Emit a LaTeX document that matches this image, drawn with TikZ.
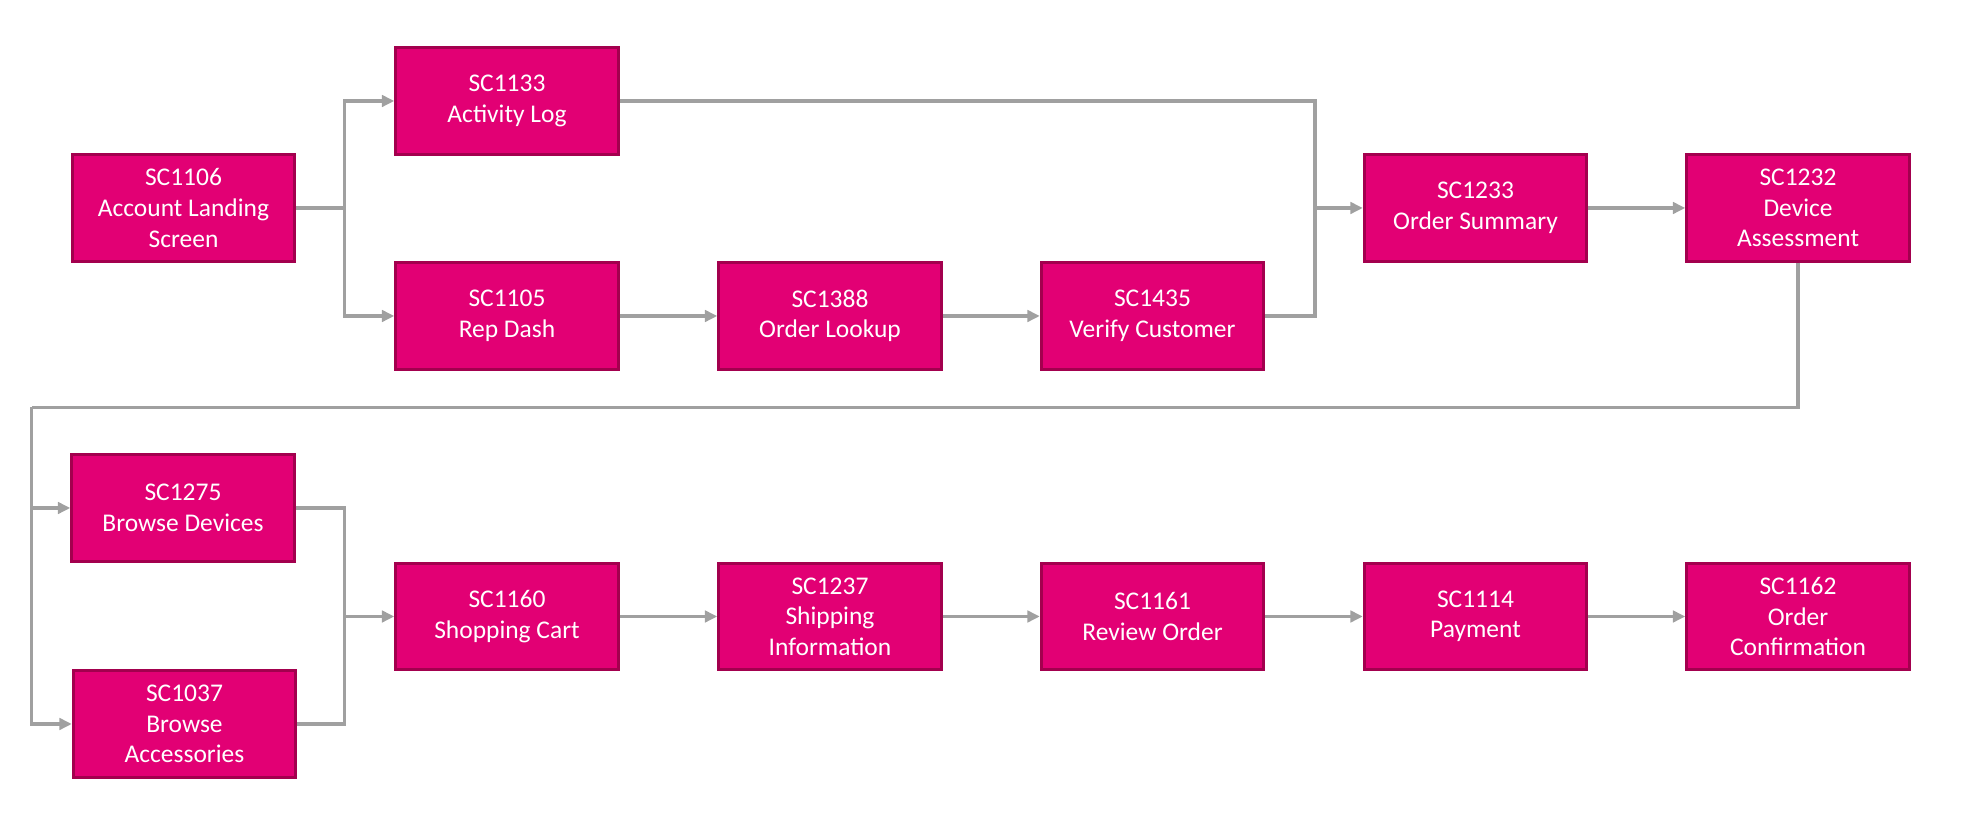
\documentclass[tikz,border=0pt]{standalone}
\usepackage{fontspec}
\setmainfont{Carlito}
\usetikzlibrary{arrows.meta}
\definecolor{magenta}{HTML}{E20074}
\definecolor{magentadark}{HTML}{A3004E}
\definecolor{linegray}{HTML}{A0A0A0}
\tikzset{
  screen/.style = {draw=magentadark, line width=1.7pt, fill=magenta, text=white, align=center,
    minimum width=4.45cm, minimum height=2.13cm, inner sep=0pt,
    font=\fontsize{14.5}{17.4}\selectfont, execute at begin node=\rule{0pt}{14.5pt}},
  link/.style = {draw=linegray, line width=2.2pt},
  flow/.style = {link, -{Triangle[length=7pt,width=6.5pt]}}
}
\begin{document}
\begin{tikzpicture}
  \useasboundingbox (0,0) rectangle (39.54,16.46);
  \node [screen] (sc1106) at (3.67,12.30) {SC1106\\Account Landing\\Screen};
  \node [screen] (sc1133) at (10.14,14.44) {SC1133\\Activity Log};
  \node [screen] (sc1105) at (10.14,10.14) {SC1105\\Rep Dash};
  \node [screen] (sc1388) at (16.60,10.14) {SC1388\\Order Lookup};
  \node [screen] (sc1435) at (23.05,10.14) {SC1435\\Verify Customer};
  \node [screen] (sc1233) at (29.51,12.30) {SC1233\\Order Summary};
  \node [screen] (sc1232) at (35.96,12.30) {SC1232\\Device\\Assessment};
  \node [screen] (sc1275) at (3.66,6.30) {SC1275\\Browse Devices};
  \node [screen] (sc1037) at (3.69,1.98) {SC1037\\Browse\\Accessories};
  \node [screen] (sc1160) at (10.14,4.13) {SC1160\\Shopping Cart};
  \node [screen] (sc1237) at (16.60,4.13) {SC1237\\Shipping\\Information};
  \node [screen] (sc1161) at (23.05,4.13) {SC1161\\Review Order};
  \node [screen] (sc1114) at (29.51,4.13) {SC1114\\Payment};
  \node [screen] (sc1162) at (35.96,4.13) {SC1162\\Order\\Confirmation};
  \coordinate (split) at (6.89,12.30);
  \coordinate (join) at (26.30,12.30);
  \coordinate (loop) at (0.63,8.31);
  \coordinate (merge) at (6.89,4.13);
  \draw [link] (sc1106.east) -- (split);
  \draw [flow] (split) |- (sc1133.west);
  \draw [flow] (split) |- (sc1105.west);
  \draw [flow] (sc1105) -- (sc1388);
  \draw [flow] (sc1388) -- (sc1435);
  \draw [link] (sc1133.east) -| (join);
  \draw [link] (sc1435.east) -| (join);
  \draw [flow] (join) -- (sc1233.west);
  \draw [flow] (sc1233) -- (sc1232);
  \draw [link] (sc1232.south) |- (loop);
  \draw [flow] (loop) |- (sc1275.west);
  \draw [flow] (loop) |- (sc1037.west);
  \draw [link] (sc1275.east) -| (merge);
  \draw [link] (sc1037.east) -| (merge);
  \draw [flow] (merge) -- (sc1160.west);
  \draw [flow] (sc1160) -- (sc1237);
  \draw [flow] (sc1237) -- (sc1161);
  \draw [flow] (sc1161) -- (sc1114);
  \draw [flow] (sc1114) -- (sc1162);
\end{tikzpicture}
\end{document}
